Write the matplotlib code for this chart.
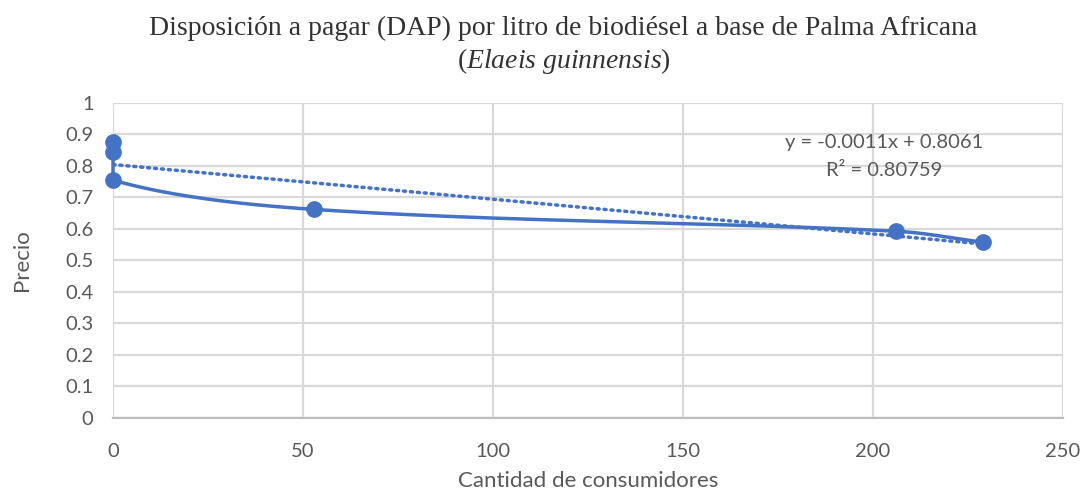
import matplotlib.pyplot as plt
import numpy as np

# data
consumidores = [0, 0, 0, 53, 206, 229]
precio = [0.877, 0.845, 0.755, 0.662, 0.593, 0.558]
eq_text = "y = -0.0011x + 0.8061"
r2_text = "R² = 0.80759"
x_ticks = [0, 50, 100, 150, 200, 250]
y_ticks = [0, 0.1, 0.2, 0.3, 0.4, 0.5, 0.6, 0.7, 0.8, 0.9, 1]
y_tick_labels = ["0", "0.1", "0.2", "0.3", "0.4", "0.5", "0.6", "0.7", "0.8", "0.9", "1"]

BLUE = "#4472C4"
GRAY = "#595959"
GRID = "#d9d9d9"

plt.rcParams["mathtext.fontset"] = "custom"
plt.rcParams["mathtext.rm"] = "Liberation Serif"
plt.rcParams["mathtext.it"] = "Liberation Serif:italic"


def smooth_curve(x, y, sx=3.8, sy=315.0, steps=40):
    # Excel-like smoothed line: bezier segments, tangents weighted by
    # segment length on screen, control points kept inside each segment's x span
    p = np.column_stack([np.asarray(x, float) * sx, np.asarray(y, float) * sy])
    n = len(p)
    out = []
    for i in range(n - 1):
        p0, p1, p2, p3 = p[max(i - 1, 0)], p[i], p[i + 1], p[min(i + 2, n - 1)]
        d01 = np.linalg.norm(p1 - p0)
        d12 = np.linalg.norm(p2 - p1)
        d23 = np.linalg.norm(p3 - p2)
        c1 = p1 + (p2 - p0) * d12 / (3 * (d01 + d12))
        c2 = p2 - (p3 - p1) * d12 / (3 * (d12 + d23))
        lo, hi = min(p1[0], p2[0]), max(p1[0], p2[0])
        c1[0] = np.clip(c1[0], lo, hi)
        c2[0] = np.clip(c2[0], lo, hi)
        t = np.linspace(0, 1, steps)[:, None]
        out.append((1 - t) ** 3 * p1 + 3 * (1 - t) ** 2 * t * c1
                   + 3 * (1 - t) * t ** 2 * c2 + t ** 3 * p2)
    pts = np.vstack(out)
    return pts[:, 0] / sx, pts[:, 1] / sy


fig = plt.figure(figsize=(10.9, 4.95), dpi=100)
ax = fig.add_axes([0.1037, 0.1556, 0.8713, 0.6364])

# smoothed series line with markers
cx, cy = smooth_curve(consumidores, precio)
ax.plot(cx, cy, color=BLUE, lw=2.5, zorder=3, solid_capstyle="round", clip_on=False)
ax.plot(consumidores, precio, "o", color=BLUE, ms=11, zorder=4, clip_on=False)

# linear trendline (dotted)
slope, intercept = np.polyfit(consumidores, precio, 1)
tx = np.array([0, max(consumidores)])
ax.plot(tx, intercept + slope * tx, color=BLUE, lw=2.5, ls=(0, (0.6, 1.4)),
        dash_capstyle="round", zorder=3)

ax.text(203, 0.873, eq_text, ha="center", va="center", fontsize=14.5,
        color=GRAY, family="Lato")
ax.text(203, 0.785, r2_text, ha="center", va="center", fontsize=14.5,
        color=GRAY, family="Lato")

ax.set_xlim(0, 250)
ax.set_ylim(0, 1)
ax.set_xticks(x_ticks)
ax.set_yticks(y_ticks)
ax.set_yticklabels(y_tick_labels)
ax.grid(True, color=GRID, lw=1.6)
ax.set_axisbelow(True)
for side in ["top", "right", "left"]:
    ax.spines[side].set_visible(False)
ax.spines["bottom"].set_color("#bfbfbf")
ax.spines["bottom"].set_linewidth(1.6)
ax.tick_params(axis="x", length=0, colors=GRAY, labelsize=14.5, pad=18)
ax.tick_params(axis="y", length=0, colors=GRAY, labelsize=14.5, pad=14)
for lab in ax.get_xticklabels() + ax.get_yticklabels():
    lab.set_family("Lato")

ax.set_xlabel("Cantidad de consumidores", fontsize=16, color=GRAY,
              family="Lato", labelpad=8)
ax.set_ylabel("Precio", fontsize=16, color=GRAY, family="Lato", labelpad=24)

fig.text(0.517, 0.943, "Disposición a pagar (DAP) por litro de biodiésel a base de Palma Africana",
         ha="center", va="center", fontsize=20, color="#333333", family="Liberation Serif")
fig.text(0.517, 0.877, r"($\mathit{Elaeis\ guinnensis}$)", ha="center", va="center",
         fontsize=20, color="#333333", family="Liberation Serif")

fig.savefig("out.png", dpi=100)
